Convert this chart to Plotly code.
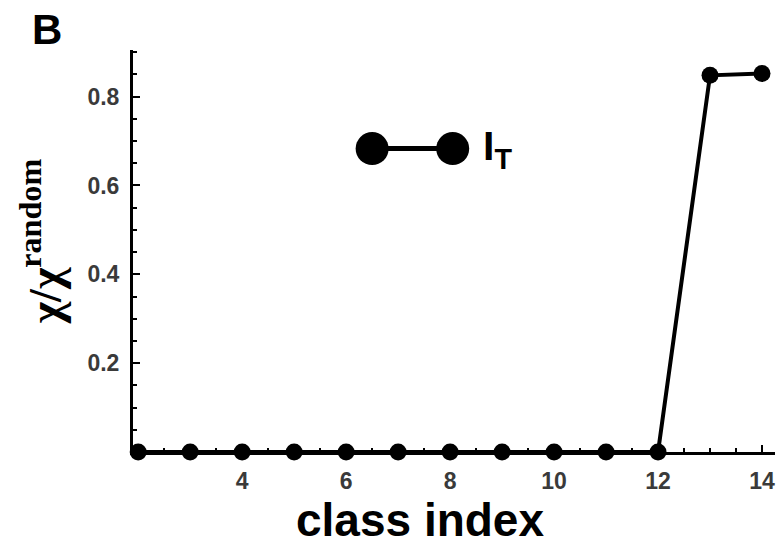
import plotly.graph_objects as go

# Class index vs normalised chi
class_index = [2, 3, 4, 5, 6, 7, 8, 9, 10, 11, 12, 13, 14]
chi_ratio = [0, 0, 0, 0, 0, 0, 0, 0, 0, 0, 0, 0.848, 0.852]

x_ticks = [4, 6, 8, 10, 12, 14]
y_ticks = [0.2, 0.4, 0.6, 0.8]
y_tick_text = ["0.2", "0.4", "0.6", "0.8"]

fig = go.Figure()

fig.add_trace(go.Scatter(
    x=class_index, y=chi_ratio, mode="lines+markers",
    line=dict(color="black", width=4),
    marker=dict(color="black", size=17),
    showlegend=False, cliponaxis=False,
))

# Legend key drawn inside the plot area
key_x = [6.5, 8.05]
key_y = [0.683, 0.683]
fig.add_trace(go.Scatter(
    x=key_x, y=key_y, mode="lines+markers",
    line=dict(color="black", width=5),
    marker=dict(color="black", size=33),
    showlegend=False, hoverinfo="skip",
))
fig.add_annotation(
    x=8.6, y=0.683, xref="x", yref="y", xanchor="left", yanchor="middle",
    text="<b>I<sub>T</sub></b>", showarrow=False,
    font=dict(family="Liberation Sans, Arial", size=41, color="black"),
)

axis_font = dict(family="Liberation Sans, Arial", size=23, color="#3a3a3a")

fig.update_xaxes(
    range=[1.9, 14.25], showline=True, linecolor="black", linewidth=3,
    tickvals=x_ticks, ticktext=[f"<b>{v}</b>" for v in x_ticks],
    ticks="inside", ticklen=7, tickwidth=2, tickcolor="black",
    minor=dict(dtick=0.5, ticks="inside", ticklen=4, tickwidth=1.5, tickcolor="black"),
    tickfont=axis_font, showgrid=False, zeroline=False, ticklabelstandoff=6,
)
fig.update_yaxes(
    range=[0, 0.905], showline=True, linecolor="black", linewidth=3,
    tickvals=y_ticks, ticktext=[f"<b>{t}</b>" for t in y_tick_text],
    ticks="inside", ticklen=7, tickwidth=2, tickcolor="black",
    minor=dict(dtick=0.05, ticks="inside", ticklen=4, tickwidth=1.5, tickcolor="black"),
    tickfont=axis_font, showgrid=False, zeroline=False, ticklabelstandoff=6,
)

# X axis label
fig.add_annotation(
    x=0.447, y=-0.168, xref="paper", yref="paper", showarrow=False,
    text="<b>class index</b>", xanchor="center", yanchor="middle",
    borderpad=0, height=40, valign="middle",
    font=dict(family="Liberation Sans, Arial", size=46, color="black"),
)
# Y axis label with serif chi and superscript
fig.add_annotation(
    x=-0.143, y=0.525, xref="paper", yref="paper", showarrow=False,
    text="<b>χ/χ<sup>random</sup></b>", textangle=-90,
    xanchor="center", yanchor="middle",
    font=dict(family="Liberation Serif, Times New Roman", size=46, color="black"),
)
# Panel letter
fig.add_annotation(
    x=-0.134, y=1.05, xref="paper", yref="paper", showarrow=False,
    text="<b>B</b>", xanchor="center", yanchor="middle",
    font=dict(family="Liberation Sans, Arial", size=42, color="black"),
)

fig.update_layout(
    width=782, height=543,
    margin=dict(l=133, r=7, t=50, b=91),
    paper_bgcolor="white", plot_bgcolor="white",
)

fig.write_html("out.html")
